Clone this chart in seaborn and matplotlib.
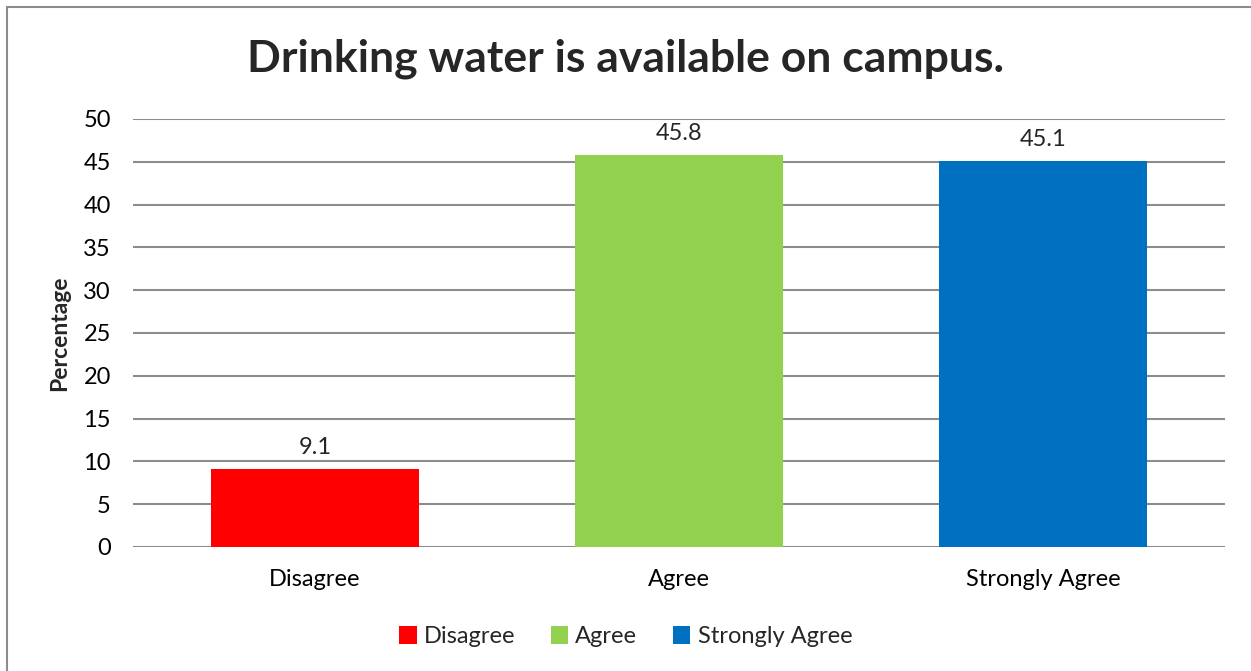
import seaborn as sns
import pandas as pd
import matplotlib.pyplot as plt
from matplotlib.patches import Patch
from matplotlib.lines import Line2D

# -----------------------------------------------------------------------------
# Data
# -----------------------------------------------------------------------------
categories = ["Disagree", "Agree", "Strongly Agree"]
percentages = [9.1, 45.8, 45.1]
colors = ["#ff0000", "#92d050", "#0070c0"]
y_ticks = [0, 5, 10, 15, 20, 25, 30, 35, 40, 45, 50]

df = pd.DataFrame({"response": categories, "percentage": percentages})

# -----------------------------------------------------------------------------
# Plot
# -----------------------------------------------------------------------------
sns.set_style("white")
plt.rcParams["font.family"] = ["Lato", "DejaVu Sans"]

fig = plt.figure(figsize=(12.51, 6.71), dpi=100)
ax = fig.add_axes([0.1063, 0.1848, 0.8729, 0.6379])

sns.barplot(
    data=df,
    x="response",
    y="percentage",
    hue="response",
    palette=colors,
    width=0.57,
    saturation=1,
    legend=False,
    linewidth=0,
    ax=ax,
)

ax.set_ylim(0, 50)
ax.set_xlim(-0.5, 2.5)
ax.set_yticks(y_ticks)
ax.yaxis.grid(True, color="#8c8c8c", linewidth=1.5)
ax.set_axisbelow(True)
for s in ax.spines.values():
    s.set_visible(False)
ax.tick_params(axis="both", length=0, labelsize=17, colors="black")
ax.tick_params(axis="y", pad=16)
ax.tick_params(axis="x", pad=16)
ax.set_xlabel("")
ax.set_ylabel("Percentage", fontsize=16.5, fontweight="bold")
ax.yaxis.set_label_coords(-0.058, 0.5)

for c in ax.containers:
    ax.bar_label(c, fmt="%.1f", fontsize=17, padding=8)

fig.text(0.5, 0.912, "Drinking water is available on campus.",
         ha="center", va="center", fontsize=32, fontweight="bold")

handles = [Patch(facecolor=col, edgecolor="none") for col in colors]
fig.legend(handles, categories, loc="center", bbox_to_anchor=(0.5, 0.051),
           ncol=3, frameon=False, fontsize=17, handlelength=0.75,
           handleheight=0.75, handletextpad=0.3, columnspacing=1.5)

# outer chart border (top and left edges visible)
fig.add_artist(Line2D([7 / 1251, 7 / 1251], [0, 1 - 7 / 671],
                      transform=fig.transFigure, color="#8c8c8c", linewidth=1.5))
fig.add_artist(Line2D([7 / 1251, 1], [1 - 7 / 671, 1 - 7 / 671],
                      transform=fig.transFigure, color="#8c8c8c", linewidth=1.5))

fig.savefig("out.png", dpi=100)
